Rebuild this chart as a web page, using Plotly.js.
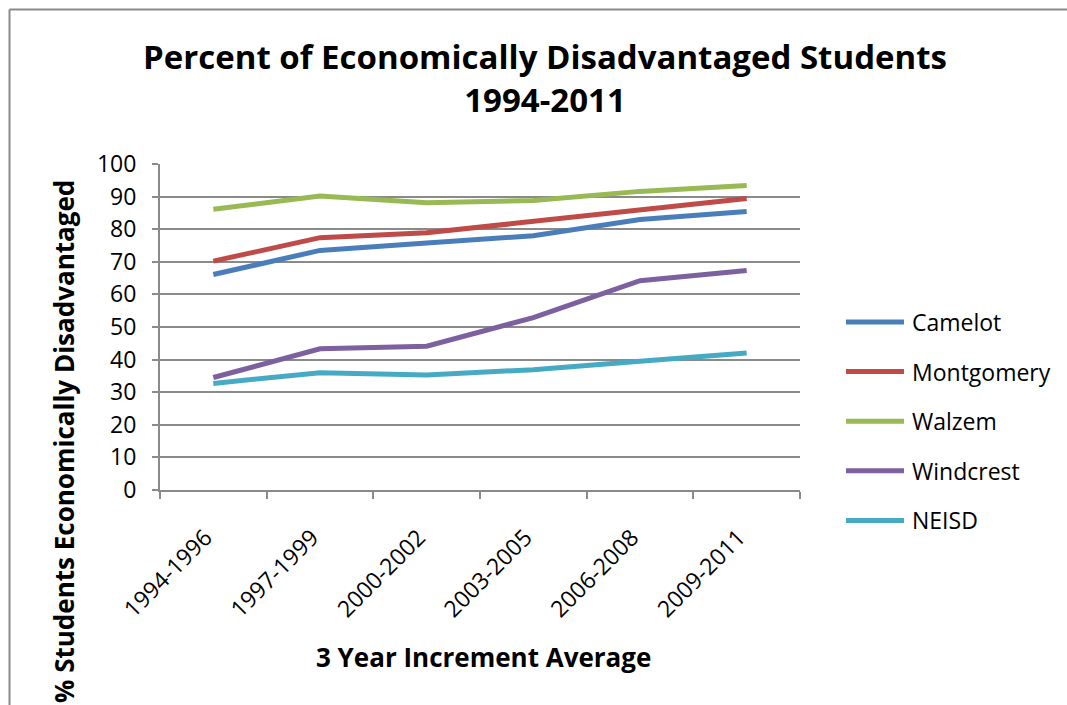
<!DOCTYPE html>
<html>
<head>
<meta charset="utf-8">
<script src="https://cdn.plot.ly/plotly-3.0.1.min.js"></script>
<style>html,body{margin:0;padding:0;background:#fff;overflow:hidden}#chart{width:1067px;height:705px}</style>
</head>
<body>
<div id="chart"></div>
<script>
const categories = ["1994-1996", "1997-1999", "2000-2002", "2003-2005", "2006-2008", "2009-2011"];
const seriesNames = ["Camelot", "Montgomery", "Walzem", "Windcrest", "NEISD"];
const camelot    = [66.1, 73.5, 75.8, 78.0, 83.0, 85.4];
const montgomery = [70.2, 77.4, 78.9, 82.4, 85.9, 89.4];
const walzem     = [86.1, 90.2, 88.1, 88.8, 91.6, 93.4];
const windcrest  = [34.5, 43.3, 44.1, 52.9, 64.2, 67.3];
const neisd      = [32.7, 36.0, 35.3, 36.9, 39.5, 42.0];
const seriesValues = [camelot, montgomery, walzem, windcrest, neisd];
const colors = ["#4A7EBB", "#BE4B48", "#98B954", "#7D60A0", "#46AAC5"];

const FONT = "'Open Sans', Lato, sans-serif";
const grid = "#8a8a8a";

const traces = seriesNames.map((name, i) => ({
  type: "scatter", mode: "lines", name: name,
  x: categories, y: seriesValues[i],
  line: {color: colors[i], width: 5},
  showlegend: false
}));

// plot area in px: x 160..800, y 164..490
const L = 160, R = 800, T = 164, B = 490;
const px2x = p => (p - L) / (R - L);
const py2y = p => (B - p) / (B - T);

const shapes = [
  // chart frame (left and top edges)
  {type: "line", xref: "paper", yref: "paper", x0: px2x(9.5), x1: px2x(9.5), y0: py2y(9.5), y1: py2y(720), line: {color: "#8a8a8a", width: 2}},
  {type: "line", xref: "paper", yref: "paper", x0: px2x(9.5), x1: px2x(1080), y0: py2y(9.5), y1: py2y(9.5), line: {color: "#8a8a8a", width: 2}}
];
const annotations = [
  {xref: "paper", yref: "paper", x: px2x(64), y: py2y(442), text: "% Students Economically Disadvantaged",
   textangle: -90, showarrow: false, xanchor: "center", yanchor: "middle",
   font: {family: FONT, size: 26, color: "#000", weight: "bold"}},
  {xref: "paper", yref: "paper", x: px2x(483), y: py2y(657), text: "3 Year Increment Average",
   showarrow: false, xanchor: "center", yanchor: "middle",
   font: {family: FONT, size: 26, color: "#000", weight: "bold"}}
];
// legend
seriesNames.forEach((name, i) => {
  const yy = py2y(322 + i * 49.6);
  shapes.push({type: "line", xref: "paper", yref: "paper", x0: px2x(846), x1: px2x(904), y0: yy, y1: yy,
    line: {color: colors[i], width: 5}});
  annotations.push({xref: "paper", yref: "paper", x: px2x(910), y: yy, text: name, showarrow: false,
    xanchor: "left", yanchor: "middle", font: {family: FONT, size: 23, color: "#000"}});
});

const layout = {
  width: 1067, height: 705,
  margin: {l: L, r: 1067 - R, t: T, b: 705 - B, pad: 0},
  paper_bgcolor: "#fff", plot_bgcolor: "#fff",
  font: {family: FONT, color: "#000"},
  title: {
    text: "Percent of Economically Disadvantaged Students<br>1994-2011",
    font: {family: FONT, size: 33, color: "#000", weight: "bold"},
    xref: "container", x: 545 / 1067, xanchor: "center",
    yref: "container", y: 1 - 69 / 705, yanchor: "top"
  },
  xaxis: {
    type: "category", range: [-0.5, 5.5],
    showline: true, linecolor: grid, linewidth: 2,
    ticks: "outside", tickson: "boundaries", ticklen: 7, tickcolor: grid, tickwidth: 2,
    showgrid: false, zeroline: false,
    tickangle: -45, tickfont: {family: FONT, size: 23, color: "#000"},
    ticklabelstandoff: 23, ticklabelshift: -8
  },
  yaxis: {
    range: [0, 100], dtick: 10, tick0: 0,
    showline: true, linecolor: grid, linewidth: 2,
    ticks: "outside", ticklen: 6, tickcolor: grid, tickwidth: 2,
    showgrid: true, gridcolor: grid, gridwidth: 2, zeroline: false,
    tickfont: {family: FONT, size: 23, color: "#000"},
    ticklabelstandoff: 11
  },
  shapes: shapes,
  annotations: annotations,
  showlegend: false
};

Plotly.newPlot("chart", traces, layout, {staticPlot: true, displayModeBar: false});
</script>
</body>
</html>
